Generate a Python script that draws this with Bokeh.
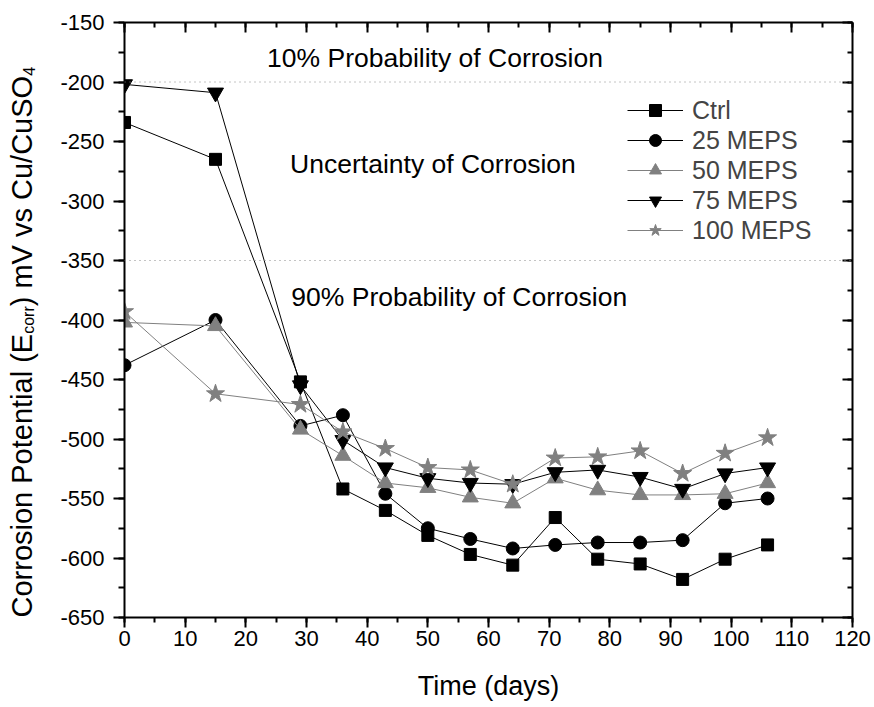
import math
from bokeh.plotting import figure
from bokeh.layouts import row
from bokeh.models import (LinearAxis, Range1d, Span, Label, Legend, LegendItem,
                          SingleIntervalTicker)
from bokeh.core.properties import value
from bokeh.embed import file_html
from bokeh.resources import INLINE

# ---------------- data ----------------
days = [0, 15, 29, 36, 43, 50, 57, 64, 71, 78, 85, 92, 99, 106]
ctrl = [-234, -265, -452, -542, -560, -581, -597, -606, -566, -601, -605, -618, -601, -589]
meps25 = [-438, -400, -489, -480, -546, -575, -584, -592, -589, -587, -587, -585, -554, -550]
meps50 = [-402, -405, -492, -514, -537, -541, -549, -554, -533, -543, -547, -547, -546, -537]
meps75 = [-202, -209, -455, -501, -524, -533, -537, -538, -528, -526, -532, -542, -529, -524]
meps100 = [-393, -462, -471, -494, -508, -524, -526, -538, -516, -515, -510, -529, -512, -499]

series_names = ["Ctrl", "25 MEPS", "50 MEPS", "75 MEPS", "100 MEPS"]
thresholds = [-200, -350]
zone_labels = ["10% Probability of Corrosion", "Uncertainty of Corrosion",
               "90% Probability of Corrosion"]
y_ticks = [-650, -600, -550, -500, -450, -400, -350, -300, -250, -200, -150]
y_tick_labels = ["-650", "-600", "-550", "-500", "-450", "-400", "-350", "-300",
                 "-250", "-200", "-150"]

FONT = "Liberation Sans"
BLACK = "#000000"
GRAY = "#808080"

W, H = 874, 707
LW = 48  # width of the strip holding the y-axis title
Y0, Y1 = -650, -150

p = figure(width=W - LW, height=H, x_range=Range1d(0, 120), y_range=Range1d(Y0, Y1),
           output_backend="svg", toolbar_location=None,
           min_border_left=124 - LW, min_border_right=22, min_border_top=22,
           min_border_bottom=90)
p.grid.visible = False
p.outline_line_color = None

xa = p.xaxis[0]
xa.ticker = SingleIntervalTicker(interval=10, num_minor_ticks=2)
ya = p.yaxis[0]
ya.ticker = SingleIntervalTicker(interval=50, num_minor_ticks=2)
ya.major_label_overrides = {t: s for t, s in zip(y_ticks, y_tick_labels)}
for ax in (xa, ya):
    ax.axis_line_width = 2
    ax.major_tick_line_width = 2
    ax.minor_tick_line_width = 2
    ax.major_tick_in = 0
    ax.minor_tick_in = 0
    ax.major_label_text_font = FONT
    ax.major_label_text_font_size = "22px"
    ax.major_label_text_color = BLACK
xa.major_tick_out = 10
xa.minor_tick_out = 5
xa.major_label_standoff = 3
xa.axis_label = "Time (days)"
xa.axis_label_text_font = FONT
xa.axis_label_text_font_size = "27px"
xa.axis_label_text_font_style = "normal"
xa.axis_label_text_color = BLACK
xa.axis_label_standoff = 22
ya.major_tick_out = 11
ya.minor_tick_out = 6
ya.major_label_standoff = 9

top = LinearAxis(ticker=SingleIntervalTicker(interval=10, num_minor_ticks=2))
right = LinearAxis(ticker=SingleIntervalTicker(interval=50, num_minor_ticks=2))
for ax in (top, right):
    ax.axis_line_width = 2
    ax.major_tick_line_width = 2
    ax.minor_tick_line_width = 2
    ax.major_tick_in = 10
    ax.major_tick_out = 0
    ax.minor_tick_in = 5
    ax.minor_tick_out = 0
    ax.major_label_text_color = None
    ax.major_label_text_font_size = "1px"
    ax.major_label_standoff = 0
p.add_layout(top, "above")
p.add_layout(right, "right")

# threshold lines
for t in thresholds:
    p.add_layout(Span(location=t, dimension="width", line_color="#888888",
                      line_width=1, line_dash="1 4"))

styles = [
    (ctrl, "square", BLACK, 12),
    (meps25, "circle", BLACK, 13),
    (meps50, "triangle", GRAY, 16),
    (meps75, "inverted_triangle", BLACK, 16),
    (meps100, "star", GRAY, 19),
]
items = []
for name, (vals, marker, color, size) in zip(series_names, styles):
    ln = p.line(days, vals, line_color=color, line_width=1)
    sc = p.scatter(days, vals, marker=marker, size=size, fill_color=color, line_color=color)
    items.append(LegendItem(label=name, renderers=[ln, sc]))

legend = Legend(items=items, location=(503, 372), glyph_width=56, glyph_height=30,
                label_height=30, spacing=0, padding=0, margin=0, border_line_color=None,
                background_fill_alpha=0, label_text_font=FONT, label_text_font_size="25px",
                label_standoff=9)
p.add_layout(legend)

# zone annotations
zone_pos = [(23.5, -179.5), (27.3, -269), (27.5, -381)]
for txt, (x, y) in zip(zone_labels, zone_pos):
    p.add_layout(Label(x=x, y=y, text=txt, text_font=FONT, text_font_size="26.5px",
                       text_baseline="middle", text_align="left", text_color=BLACK))

# ---------- y-axis title strip (with subscripts) ----------
# this strip's frame is aligned with the main frame, so it shares the y scale
left = figure(width=LW, height=H, x_range=Range1d(0, LW), y_range=Range1d(Y0, Y1),
              output_backend="svg", toolbar_location=None, min_border=0,
              x_axis_location=None, y_axis_location=None)
left.grid.visible = False
left.outline_line_color = None

big, small = 29, 16
units_per_px = (Y1 - Y0) / 595.0
def w(s, fs):
    widths = {' ': 278, '(': 333, ')': 333, '/': 278, 'C': 722, 'E': 667, 'O': 778,
              'P': 667, 'S': 667, 'V': 667, 'a': 556, 'c': 500, 'e': 556, 'i': 222,
              'l': 222, 'm': 833, 'n': 556, 'o': 556, 'r': 333, 's': 500, 't': 278,
              'u': 556, 'v': 500, '4': 556}
    return sum(widths.get(ch, 556) for ch in s) * fs / 1000.0

base_x = 21
parts = [("Corrosion Potential (E", big, 0), ("corr", small, 7),
         (") mV vs Cu/CuSO", big, 0), ("4", small, 7)]
ypos = float(Y0)
for txt, fs, shift in parts:
    left.text(x=[base_x + shift], y=[ypos], text=[txt], angle=math.pi / 2,
              text_font=value(FONT), text_font_size=value(f"{fs}px"),
              text_align="left", text_baseline="alphabetic", text_color=BLACK)
    ypos += w(txt, fs) * units_per_px

layout = row(left, p, spacing=0)
open("out.html", "w").write(file_html(layout, INLINE))
